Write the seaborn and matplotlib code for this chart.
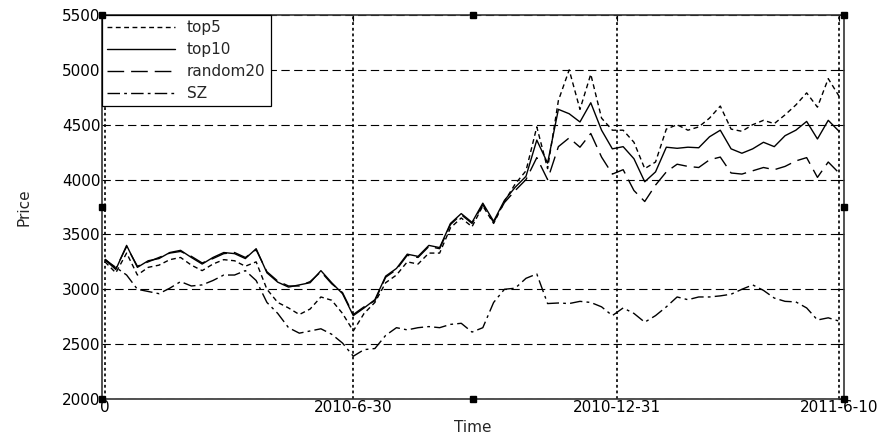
import matplotlib
matplotlib.use("Agg")
import matplotlib.pyplot as plt
import pandas as pd
import seaborn as sns

# trading-day index (every 5th day) and the four price series
days = list(range(0, 345, 5))

top5 = [3250, 3150, 3330, 3130, 3200, 3220, 3270, 3290, 3220, 3170,
        3230, 3270, 3260, 3210, 3250, 3000, 2880, 2830, 2770, 2820,
        2930, 2900, 2780, 2620, 2780, 2880, 3060, 3130, 3250, 3230,
        3330, 3330, 3560, 3650, 3570, 3760, 3600, 3800, 3960, 4080,
        4480, 4100, 4720, 5000, 4640, 4960, 4560, 4450, 4450, 4340,
        4100, 4160, 4460, 4500, 4450, 4480, 4560, 4670, 4460, 4440,
        4500, 4540, 4510, 4590, 4680, 4790, 4660, 4920, 4760]

top10 = [3270, 3180, 3400, 3200, 3260, 3280, 3335, 3355, 3290, 3230,
         3290, 3335, 3325, 3280, 3370, 3150, 3065, 3020, 3040, 3060,
         3170, 3060, 2960, 2760, 2830, 2905, 3120, 3190, 3320, 3300,
         3400, 3380, 3600, 3690, 3610, 3785, 3620, 3810, 3930, 4030,
         4360, 4150, 4640, 4600, 4525, 4700, 4450, 4280, 4300, 4190,
         3980, 4070, 4295, 4285, 4295, 4290, 4390, 4450, 4280, 4240,
         4280, 4340, 4300, 4400, 4450, 4530, 4370, 4540, 4440]

random20 = [3275, 3190, 3390, 3210, 3250, 3290, 3330, 3345, 3300, 3240,
            3280, 3325, 3335, 3290, 3360, 3160, 3075, 3030, 3030, 3070,
            3160, 3050, 2970, 2770, 2840, 2895, 3110, 3180, 3310, 3290,
            3390, 3370, 3590, 3680, 3600, 3770, 3610, 3790, 3900, 4000,
            4200, 4000, 4300, 4380, 4295, 4420, 4205, 4050, 4090, 3900,
            3800, 3950, 4070, 4140, 4120, 4110, 4180, 4205, 4060, 4050,
            4080, 4110, 4090, 4120, 4170, 4200, 4020, 4160, 4060]

sz = [3270, 3200, 3130, 3000, 2980, 2960, 3010, 3070, 3030, 3040,
      3080, 3130, 3130, 3170, 3080, 2880, 2780, 2650, 2600, 2620,
      2640, 2590, 2510, 2390, 2450, 2460, 2580, 2650, 2630, 2650,
      2660, 2650, 2680, 2690, 2610, 2650, 2880, 3000, 3010, 3100,
      3140, 2870, 2875, 2870, 2890, 2880, 2840, 2760, 2830, 2780,
      2700, 2760, 2840, 2930, 2905, 2930, 2930, 2940, 2955, 3000,
      3040, 2990, 2920, 2890, 2885, 2830, 2720, 2740, 2710]

tick_days = [0, 115, 237, 340]
tick_labels = ["0", "2010-6-30", "2010-12-31", "2011-6-10"]
y_ticks = [2000, 2500, 3000, 3500, 4000, 4500, 5000, 5500]

series = {
    "top5": (top5, (0, (3.5, 2.5))),
    "top10": (top10, "-"),
    "random20": (random20, (0, (12, 5))),
    "SZ": (sz, (0, (9, 3, 2, 3))),
}

sns.set_style("white")
plt.rcParams["font.family"] = ["DejaVu Sans"]
FS = 11

fig = plt.figure(figsize=(8.87, 4.37), dpi=100)
ax = fig.add_axes([102 / 887, 38 / 437, 742 / 887, 384 / 437])

for name, (vals, ls) in series.items():
    df = pd.DataFrame({"day": days, "price": vals})
    sns.lineplot(data=df, x="day", y="price", ax=ax, color="black",
                 linewidth=1.0, linestyle=ls, label=name, errorbar=None)

ax.set_xlim(-1.4, 342.3)
ax.set_ylim(2000, 5500)
ax.set_xticks(tick_days)
ax.set_xticklabels(tick_labels)
ax.set_yticks(y_ticks)
ax.set_xlabel("Time", fontsize=FS, labelpad=3)
ax.set_ylabel("Price", fontsize=FS, labelpad=22)
ax.tick_params(direction="in", length=4, width=0.8, labelsize=FS,
               top=True, right=True, pad=1, colors="black")

# matlab-style grid: dashed horizontals, dotted verticals
ax.yaxis.grid(True, color="black", linestyle=(0, (7.5, 4)), linewidth=0.8)
ax.xaxis.grid(True, color="black", linestyle=(0, (1.7, 1.7)), linewidth=1.2)
ax.set_axisbelow(True)
for sp in ax.spines.values():
    sp.set_color("#333333")
    sp.set_linewidth(1.2)

leg = ax.legend(loc="upper left", borderaxespad=0, handlelength=4.4,
                fontsize=FS, labelspacing=0.45, borderpad=0.35,
                handletextpad=0.8, fancybox=False, framealpha=1)
leg.get_frame().set_edgecolor("black")
leg.get_frame().set_linewidth(0.9)

# selection handles on the axes box
for fx, fy in [(0, 0), (0.5, 0), (1, 0), (0, 0.5), (1, 0.5), (0, 1), (0.5, 1), (1, 1)]:
    ax.plot(fx, fy, marker="s", markersize=5, color="black",
            transform=ax.transAxes, clip_on=False, zorder=10)

fig.savefig("out.png", dpi=100)
